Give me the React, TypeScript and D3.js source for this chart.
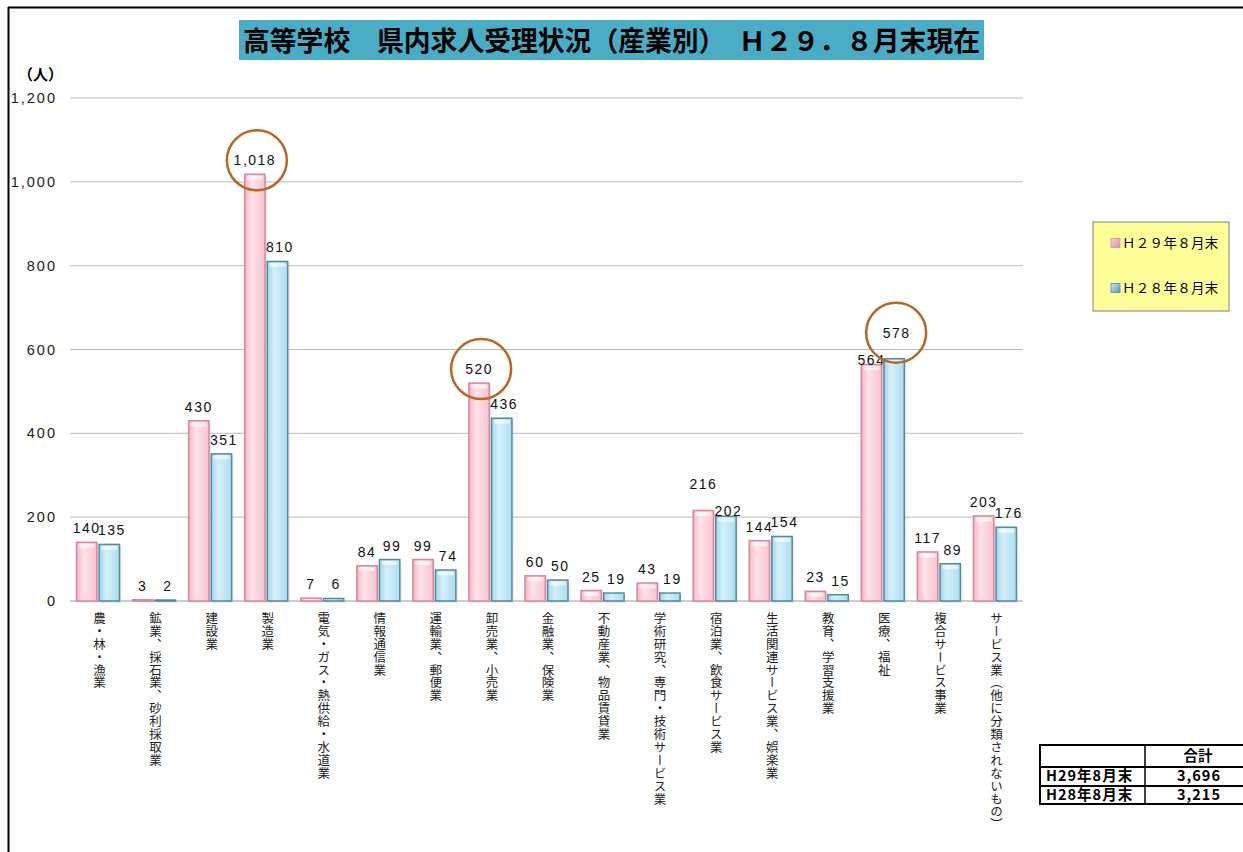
import React from "react";
import * as d3 from "d3";

const categories = [
  "農・林・漁業",
  "鉱業、採石業、砂利採取業",
  "建設業",
  "製造業",
  "電気・ガス・熱供給・水道業",
  "情報通信業",
  "運輸業、郵便業",
  "卸売業、小売業",
  "金融業、保険業",
  "不動産業、物品賃貸業",
  "学術研究、専門・技術サービス業",
  "宿泊業、飲食サービス業",
  "生活関連サービス業、娯楽業",
  "教育、学習支援業",
  "医療、福祉",
  "複合サービス事業",
  "サービス業（他に分類されないもの）",
];
const seriesNames = ["Ｈ２９年８月末", "Ｈ２８年８月末"];
const tableNames = ["H29年8月末", "H28年8月末"];
const h29 = [140, 3, 430, 1018, 7, 84, 99, 520, 60, 25, 43, 216, 144, 23, 564, 117, 203];
const h28 = [135, 2, 351, 810, 6, 99, 74, 436, 50, 19, 19, 202, 154, 15, 578, 89, 176];
const yTicks = [0, 200, 400, 600, 800, 1000, 1200];
const highlights = [
  { cat: 3, series: 0 },
  { cat: 7, series: 0 },
  { cat: 14, series: 1 },
];
const title = "高等学校　県内求人受理状況（産業別）　Ｈ２９．８月末現在";

const W = 1243;
const H = 852;

export default function App() {
  const x0 = d3.scaleBand<number>().domain(d3.range(categories.length)).range([70, 1023]);
  const x1 = d3.scaleBand<number>().domain([0, 1]).range([6.5, 49.5]).paddingInner(0.1);
  const y = d3.scaleLinear().domain([0, 1200]).range([601, 98]);
  const series = [h29, h28];
  const fmt = d3.format(",");
  const sansJP = "'Noto Sans CJK JP', 'Noto Sans', sans-serif";
  const arial = "'Liberation Sans', Arial, sans-serif";
  const fills = ["url(#gPink)", "url(#gBlue)"];
  const strokes = ["#D48A9C", "#55899F"];
  const labelShift = [0, 2.5];

  // label baseline; separate labels of close, tall pairs so they don't collide
  const labelY = (i: number, k: number) => {
    const v = series[k][i];
    const o = series[1 - k][i];
    const base = y(v) - 9;
    if (Math.abs(v - o) < 20 && Math.max(v, o) >= 200) {
      return v >= o ? base - 12 : base + 9;
    }
    return base;
  };

  return (
    <svg width={W} height={H} style={{ position: "absolute", left: 0, top: 0, background: "#fff" }}>
      <defs>
        <linearGradient id="gPink" x1="0" x2="1" y1="0" y2="0">
          <stop offset="0%" stopColor="#F2B3C1" />
          <stop offset="35%" stopColor="#FFE3EA" />
          <stop offset="100%" stopColor="#F7C2CE" />
        </linearGradient>
        <linearGradient id="gBlue" x1="0" x2="1" y1="0" y2="0">
          <stop offset="0%" stopColor="#A3D5EA" />
          <stop offset="35%" stopColor="#D3EFF9" />
          <stop offset="100%" stopColor="#ADDCEE" />
        </linearGradient>
        <linearGradient id="legPink" x1="0" x2="1" y1="0" y2="1">
          <stop offset="0%" stopColor="#FBD3DD" />
          <stop offset="100%" stopColor="#D98FA2" />
        </linearGradient>
        <linearGradient id="legBlue" x1="0" x2="1" y1="0" y2="1">
          <stop offset="0%" stopColor="#CDEBF7" />
          <stop offset="100%" stopColor="#5E93B3" />
        </linearGradient>
      </defs>

      {/* frame */}
      <line x1={8} x2={W} y1={7.5} y2={7.5} stroke="#000" strokeWidth={2} />
      <line x1={8.5} x2={8.5} y1={7} y2={H} stroke="#000" strokeWidth={2} />

      {/* title */}
      <rect x={239} y={20} width={745} height={40} fill="#4BACC6" />
      <text
        x={243}
        y={51}
        fontFamily={sansJP}
        fontWeight={700}
        fontSize={27}
        fill="#000"
        textLength={737}
        lengthAdjust="spacingAndGlyphs"
      >
        {title}
      </text>

      {/* unit */}
      <text x={18} y={80} fontFamily={sansJP} fontWeight={700} fontSize={15} fill="#000">
        （人）
      </text>

      {/* grid + y ticks */}
      {yTicks.map((t) => (
        <g key={t}>
          <line x1={70} x2={1023} y1={y(t)} y2={y(t)} stroke={t === 0 ? "#9A9A9A" : "#BDBDBD"} strokeWidth={1} />
          <text
            x={57}
            y={y(t) + 5}
            textAnchor="end"
            fontFamily={arial}
            fontSize={14.5}
            letterSpacing={2}
            fill="#222"
          >
            {fmt(t)}
          </text>
        </g>
      ))}

      {/* bars */}
      {categories.map((c, i) => (
        <g key={c} transform={`translate(${x0(i)},0)`}>
          {series.map((s, k) => {
            const bx = x1(k)!;
            const bw = x1.bandwidth();
            const top = y(s[i]);
            const h = Math.max(y(0) - top, 1);
            return (
              <g key={k}>
                <rect x={bx + 2} y={top + 2} width={bw} height={h} fill="#C9C3DD" opacity={0.35} />
                <rect
                  x={bx}
                  y={y(0) - h}
                  width={bw}
                  height={h}
                  fill={fills[k]}
                  stroke={strokes[k]}
                  strokeWidth={1.5}
                />
                {h > 8 && (
                  <rect
                    x={bx + 2}
                    y={y(0) - h + 1.5}
                    width={bw - 4}
                    height={4}
                    rx={2}
                    fill="#fff"
                    opacity={0.6}
                  />
                )}
                <text
                  x={bx + bw / 2 + labelShift[k]}
                  y={labelY(i, k)}
                  textAnchor="middle"
                  fontFamily={arial}
                  fontSize={14}
                  letterSpacing={1.5}
                  fill="#111"
                >
                  {fmt(s[i])}
                </text>
              </g>
            );
          })}
          <text
            x={x0.bandwidth() / 2 + 1.5}
            y={612}
            fontFamily={sansJP}
            fontSize={12.5}
            letterSpacing={0.4}
            fill="#222"
            style={{ writingMode: "vertical-rl" }}
          >
            {c}
          </text>
        </g>
      ))}

      {/* highlight circles */}
      {highlights.map((hl) => {
        const cx = x0(hl.cat)! + x1(hl.series)! + x1.bandwidth() / 2 + 2;
        const cy = labelY(hl.cat, hl.series) - 5;
        return <circle key={hl.cat} cx={cx} cy={cy} r={30} fill="none" stroke="#B8672B" strokeWidth={2.5} />;
      })}

      {/* legend */}
      <rect x={1093} y={222} width={136} height={89} fill="#FFFF99" stroke="#7F7F7F" strokeWidth={1} />
      {seriesNames.map((n, k) => (
        <g key={n} transform={`translate(1111,${243 + k * 45})`}>
          <rect x={0} y={-4.5} width={9} height={9} fill={k === 0 ? "url(#legPink)" : "url(#legBlue)"} stroke={strokes[k]} strokeWidth={0.8} />
          <text x={11} y={5} fontFamily={sansJP} fontSize={13.5} fill="#000" letterSpacing={0.3}>
            {n}
          </text>
        </g>
      ))}

      {/* totals table */}
      <g fontFamily={sansJP} fontWeight={700} fontSize={14.5} fill="#000">
        <rect x={1040} y={745} width={210} height={59} fill="#fff" stroke="#000" strokeWidth={2} />
        <line x1={1040} x2={W} y1={767} y2={767} stroke="#000" strokeWidth={2} />
        <line x1={1040} x2={W} y1={786} y2={786} stroke="#000" strokeWidth={2} />
        <line x1={1145} x2={1145} y1={745} y2={804} stroke="#000" strokeWidth={1.5} />
        <text x={1198} y={761} textAnchor="middle">合計</text>
        {tableNames.map((n, k) => (
          <g key={n}>
            <text x={1046} y={781 + k * 19} letterSpacing={1}>{n}</text>
            <text x={1199} y={781 + k * 19} textAnchor="middle" letterSpacing={1}>
              {fmt(d3.sum(series[k]))}
            </text>
          </g>
        ))}
      </g>
    </svg>
  );
}
